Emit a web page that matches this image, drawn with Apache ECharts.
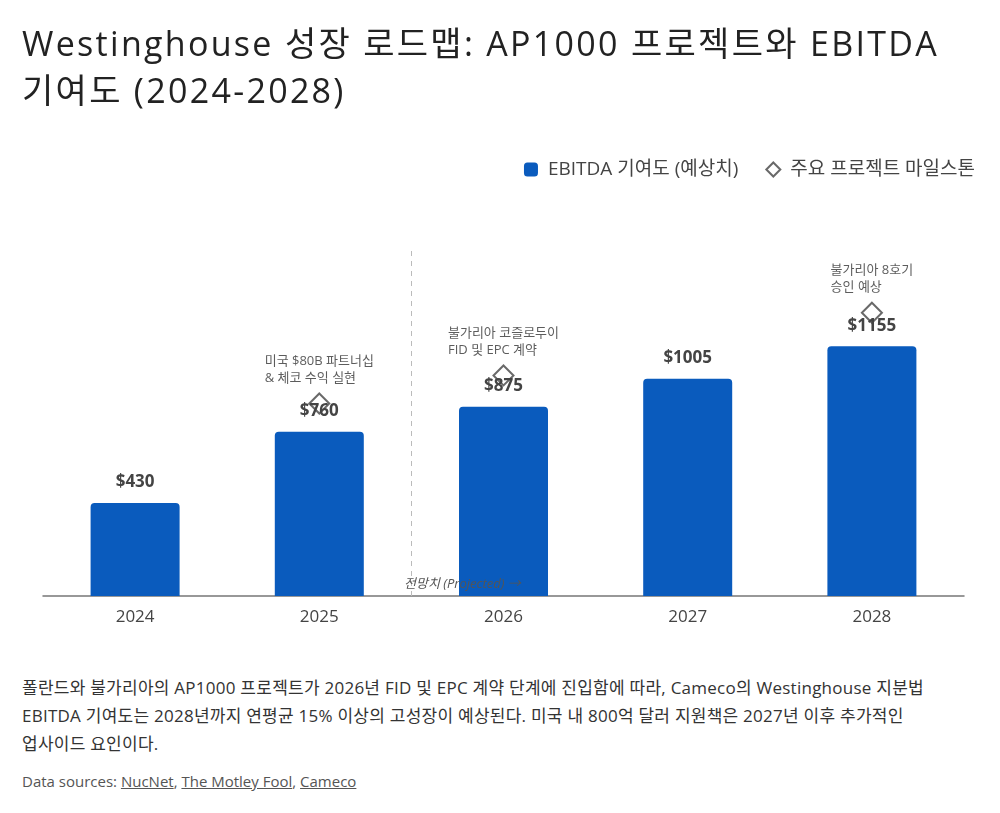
<!DOCTYPE html>
<html>
<head>
<meta charset="utf-8">
<script src="https://cdn.jsdelivr.net/npm/echarts@6/dist/echarts.min.js"></script>
<style>
  body { margin: 0; background: #fff; font-family: "Open Sans", "Noto Sans CJK KR", sans-serif; }
  #chart { width: 1000px; height: 650px; }
  .title { position: absolute; left: 22px; top: 20px; font-size: 34px; line-height: 47px; letter-spacing: 2.3px; color: #222; white-space: nowrap; }
  .note { position: absolute; left: 22px; top: 674px; font-size: 17px; line-height: 28px; letter-spacing: 0.25px; color: #333; white-space: nowrap; }
  .src { position: absolute; left: 22px; top: 771px; font-size: 15px; color: #555; }
  .src a { color: #555; text-decoration: underline; }
</style>
</head>
<body>
<div id="chart"></div>
<div class="title">Westinghouse 성장 로드맵: AP1000 프로젝트와 EBITDA<br>기여도 (2024-2028)</div>
<div class="note">폴란드와 불가리아의 AP1000 프로젝트가 2026년 FID 및 EPC 계약 단계에 진입함에 따라, Cameco의 Westinghouse 지분법<br>EBITDA 기여도는 2028년까지 연평균 15% 이상의 고성장이 예상된다. 미국 내 800억 달러 지원책은 2027년 이후 추가적인<br>업사이드 요인이다.</div>
<div class="src">Data sources: <a>NucNet</a>, <a>The Motley Fool</a>, <a>Cameco</a></div>
<script>
const years = ['2024', '2025', '2026', '2027', '2028'];
const ebitda = [430, 760, 875, 1005, 1155];
const milestoneY = [null, 890, 1020, null, 1310];
const milestoneNotes = ['', '미국 $80B 파트너십\n& 체코 수익 실현', '불가리아 코즐로두이\nFID 및 EPC 계약', '', '불가리아 8호기\n승인 예상'];
// boundary between 2025 and 2026, on a 0..5 slot scale
const projectedFrom = 2;

const font = '"Open Sans", "Noto Sans CJK KR", sans-serif';
const chart = echarts.init(document.getElementById('chart'));

chart.setOption({
  textStyle: { fontFamily: font },
  legend: {
    right: 20, top: 155,
    itemWidth: 14, itemHeight: 14, itemGap: 27,
    textStyle: { fontSize: 19, color: '#444', fontFamily: font, padding: [0, 0, 0, 5] },
    data: [
      { name: 'EBITDA 기여도 (예상치)', icon: 'roundRect' },
      { name: '주요 프로젝트 마일스톤', icon: 'diamond' }
    ]
  },
  grid: { left: 43, right: 36, top: 250, bottom: 54 },
  xAxis: [
    {
      type: 'category',
      data: years,
      axisLine: { lineStyle: { color: '#777', width: 1.5 } },
      axisTick: { show: false },
      axisLabel: { color: '#444', fontSize: 17, margin: 13 }
    },
    { type: 'value', min: 0, max: 5, show: false }
  ],
  yAxis: { type: 'value', min: 0, max: 1600, show: false, splitLine: { show: false } },
  series: [
    {
      name: 'EBITDA 기여도 (예상치)',
      type: 'bar',
      data: ebitda,
      barWidth: 89,
      itemStyle: { color: '#0a5bbd', borderRadius: [4, 4, 0, 0] },
      label: {
        show: true, position: 'top', distance: 12,
        formatter: p => '$' + p.value,
        fontSize: 17, fontWeight: 'bold', color: '#444'
      },
      z: 2
    },
    {
      name: 'divider',
      type: 'line',
      xAxisIndex: 1,
      data: [],
      markLine: {
        silent: true, symbol: 'none',
        lineStyle: { color: '#bbb', type: [5, 5], width: 1 },
        label: { show: false },
        data: [{ xAxis: projectedFrom }]
      },
      markPoint: {
        silent: true, symbol: 'circle', symbolSize: 0,
        label: {
          show: true, formatter: '전망치 (Projected) →',
          fontSize: 13, fontStyle: 'italic', color: '#555',
          position: 'inside', offset: [51, -12]
        },
        data: [{ coord: [projectedFrom, 0] }]
      },
      z: 4
    },
    {
      name: '주요 프로젝트 마일스톤',
      type: 'scatter',
      symbol: 'diamond',
      symbolSize: [20, 20],
      itemStyle: { color: 'rgba(255,255,255,0)', borderColor: '#444', borderWidth: 2 },
      data: milestoneY.map((v, i) => v == null ? null : {
        value: [years[i], v],
        note: milestoneNotes[i]
      }),
      label: {
        show: true, position: 'top', distance: 6,
        formatter: p => p.data.note.split('\n').map(s => '{n|' + s + '}').join('\n'),
        rich: { n: { align: 'left', fontSize: 13, color: '#333', lineHeight: 17, fontFamily: font } }
      },
      z: 3
    }
  ]
});
</script>
</body>
</html>
